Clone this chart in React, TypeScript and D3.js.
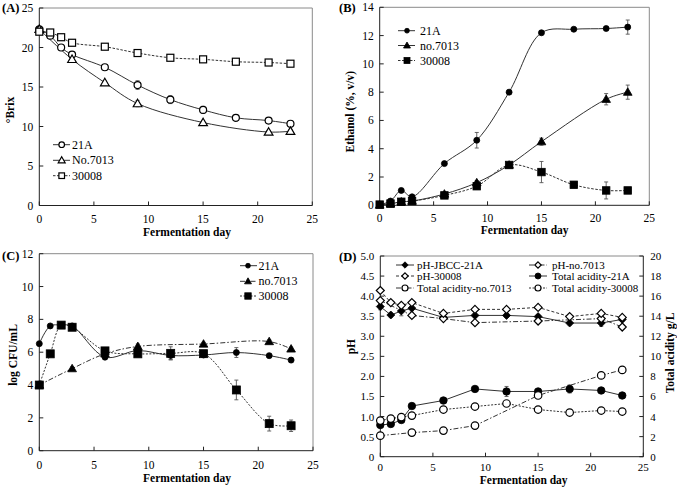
import React from 'react';
import * as d3 from 'd3';

const FONT = "'Liberation Serif', 'Times New Roman', serif";

// ---------- Data ----------
const daysAll = [0, 1, 2, 3, 6, 9, 12, 15, 18, 21, 23];
const daysSparse = [0, 3, 6, 9, 15, 21, 23];

// (A) °Brix
const brix21A = [22.3, 21.5, 20.0, 19.1, 17.5, 15.25, 13.4, 12.1, 11.1, 10.75, 10.35];
const brix21AErr = [0.2, 0.2, 0.2, 0.3, 0.35, 0.55, 0.5, 0.45, 0.4, 0.35, 0.4];
const brix7013 = [22.3, 18.5, 15.55, 12.9, 10.5, 9.3, 9.4];
const brix7013Err = [0.2, 0.3, 0.2, 0.4, 0.2, 0.2, 0.2];
const brix30008 = [22.0, 21.9, 21.3, 20.6, 20.1, 19.3, 18.7, 18.5, 18.2, 18.1, 17.95];
const brix30008Err = [0.15, 0.15, 0.15, 0.15, 0.2, 0.2, 0.15, 0.15, 0.2, 0.15, 0.3];

// (B) Ethanol
const eth21A = [0.05, 0.3, 1.05, 0.6, 2.95, 4.6, 8.0, 12.2, 12.45, 12.5, 12.6];
const eth21AErr = [0, 0.1, 0.1, 0.1, 0.1, 0.55, 0.15, 0.15, 0.1, 0.1, 0.5];
const days7013B = [0, 1, 2, 3, 6, 9, 12, 15, 21, 23];
const eth7013 = [0.02, 0.1, 0.25, 0.3, 0.8, 1.6, 2.85, 4.5, 7.5, 8.0];
const eth7013Err = [0, 0, 0, 0, 0.1, 0.15, 0.1, 0.25, 0.4, 0.5];
const eth30008 = [0.05, 0.12, 0.25, 0.3, 0.7, 1.35, 2.85, 2.35, 1.45, 1.05, 1.05];
const eth30008Err = [0, 0, 0, 0, 0.1, 0.1, 0.1, 0.75, 0.1, 0.6, 0.05];

// (C) log CFU/mL
const cfu21A = [6.52, 7.6, 7.65, 7.6, 5.7, 6.1, 5.8, 5.83, 5.98, 5.79, 5.52];
const cfu21AErr = [0, 0, 0, 0.1, 0.15, 0.15, 0.25, 0.1, 0.3, 0.1, 0.15];
const cfu7013 = [4.0, 5.0, 5.9, 6.35, 6.5, 6.65, 6.2];
const cfu7013Err = [0, 0.1, 0.1, 0.15, 0.1, 0.1, 0.1];
const cfu30008 = [4.0, 5.9, 7.65, 7.52, 6.08, 5.9, 5.93, 5.91, 3.7, 1.65, 1.52];
const cfu30008Err = [0, 0.1, 0.1, 0.1, 0.15, 0.1, 0.4, 0.15, 0.6, 0.45, 0.35];

// (D) pH and total acidity
const ph21A = [3.74, 3.53, 3.63, 3.7, 3.47, 3.52, 3.52, 3.49, 3.33, 3.33, 3.42];
const ph21AErr = [0.08, 0.05, 0.12, 0.1, 0.05, 0.05, 0.05, 0.05, 0.05, 0.08, 0.05];
const ph7013 = [3.89, 3.52, 3.44, 3.34, 3.38, 3.44, 3.23];
const ph30008 = [4.14, 3.84, 3.77, 3.84, 3.57, 3.67, 3.67, 3.72, 3.49, 3.57, 3.47];
const ta21A = [3.16, 3.26, 3.66, 5.05, 5.6, 6.75, 6.5, 6.5, 6.75, 6.6, 6.1];
const ta21AErr = [0.1, 0.1, 0.1, 0.1, 0.15, 0.2, 0.5, 0.2, 0.4, 0.2, 0.2];
const ta7013 = [2.1, 2.4, 2.6, 3.1, 6.1, 8.1, 8.65];
const ta30008 = [3.6, 3.8, 3.95, 4.1, 4.7, 5.0, 5.3, 4.7, 4.4, 4.6, 4.5];

const xTicks = [0, 5, 10, 15, 20, 25];

// ---------- Types ----------
type MarkerType = 'circle' | 'triangle' | 'square' | 'diamond';
interface Series {
  name: string;
  days: number[];
  values: number[];
  errs?: number[];
  marker: MarkerType;
  filled: boolean;
  size: number;
  dash?: string;
  curve: 'smooth' | 'linear';
  axis?: 'left' | 'right';
}
interface LegendItem {
  series: Series;
  x1: number;
  x2: number;
  mx: number;
  tx: number;
  y: number;
}
interface PanelCfg {
  x0: number;
  x1: number;
  top: number;
  bottom: number;
  yDomain: [number, number];
  yTicks: number[];
  yFmt: (v: number) => string;
  rDomain?: [number, number];
  rTicks?: number[];
  label: string;
  labelX: number;
  labelY: number;
  yTitle: string;
  yTitleX: number;
  yTitleY: number;
  rTitle?: string;
  rTitleX?: number;
  rTitleY?: number;
  xTitleX: number;
  xTitleY: number;
  tickLabelY: number;
  tickFont: number;
  series: Series[];
  legend: LegendItem[];
  legendFont: number;
}

function Marker({ type, cx, cy, filled, size }: { type: MarkerType; cx: number; cy: number; filled: boolean; size: number }) {
  const fill = filled ? '#000' : '#fff';
  const common = { fill, stroke: '#000', strokeWidth: filled ? 0.8 : 1.2 };
  const s = size;
  if (type === 'circle') return <circle cx={cx} cy={cy} r={s / 2} {...common} />;
  if (type === 'square') return <rect x={cx - s / 2} y={cy - s / 2} width={s} height={s} {...common} />;
  if (type === 'triangle')
    return (
      <path
        d={`M${cx},${cy - s * 0.58} L${cx + s * 0.58},${cy + s * 0.42} L${cx - s * 0.58},${cy + s * 0.42} Z`}
        {...common}
      />
    );
  return <path d={`M${cx},${cy - s / 2} L${cx + s / 2},${cy} L${cx},${cy + s / 2} L${cx - s / 2},${cy} Z`} {...common} />;
}

function Panel({ cfg }: { cfg: PanelCfg }) {
  const x = d3.scaleLinear().domain([0, 25]).range([cfg.x0, cfg.x1]);
  const yL = d3.scaleLinear().domain(cfg.yDomain).range([cfg.bottom, cfg.top]);
  const yR = cfg.rDomain ? d3.scaleLinear().domain(cfg.rDomain).range([cfg.bottom, cfg.top]) : yL;
  const tickLen = 4;
  return (
    <g>
      {/* frame */}
      <line x1={cfg.x0} x2={cfg.x1} y1={cfg.top} y2={cfg.top} stroke="#8a8a8a" strokeWidth={1} />
      <line x1={cfg.x1} x2={cfg.x1} y1={cfg.top} y2={cfg.bottom} stroke={cfg.rDomain ? '#222' : '#8a8a8a'} strokeWidth={1} />
      <line x1={cfg.x0} x2={cfg.x0} y1={cfg.top} y2={cfg.bottom} stroke="#222" strokeWidth={1} />
      <line x1={cfg.x0} x2={cfg.x1} y1={cfg.bottom} y2={cfg.bottom} stroke="#222" strokeWidth={1} />
      {/* x ticks */}
      {xTicks.map((t) => (
        <g key={'xt' + t}>
          <line x1={x(t)} x2={x(t)} y1={cfg.bottom} y2={cfg.bottom - tickLen} stroke="#222" />
          <text x={x(t)} y={cfg.tickLabelY} textAnchor="middle" dominantBaseline="central" fontSize={cfg.tickFont} fontFamily={FONT}>
            {t}
          </text>
        </g>
      ))}
      {/* y ticks */}
      {cfg.yTicks.map((t) => (
        <g key={'yt' + t}>
          <line x1={cfg.x0} x2={cfg.x0 + tickLen} y1={yL(t)} y2={yL(t)} stroke="#222" />
          <text x={cfg.x0 - 6} y={yL(t)} textAnchor="end" dominantBaseline="central" fontSize={cfg.tickFont} fontFamily={FONT}>
            {cfg.yFmt(t)}
          </text>
        </g>
      ))}
      {cfg.rTicks &&
        cfg.rTicks.map((t) => (
          <g key={'rt' + t}>
            <line x1={cfg.x1} x2={cfg.x1 - tickLen} y1={yR(t)} y2={yR(t)} stroke="#222" />
            <text x={cfg.x1 + 7} y={yR(t)} textAnchor="start" dominantBaseline="central" fontSize={cfg.tickFont} fontFamily={FONT}>
              {t}
            </text>
          </g>
        ))}
      {/* titles */}
      <text x={cfg.labelX} y={cfg.labelY} fontSize={12.5} fontWeight="bold" fontFamily={FONT}>
        {cfg.label}
      </text>
      <text x={cfg.xTitleX} y={cfg.xTitleY} textAnchor="middle" dominantBaseline="central" fontSize={11.5} fontWeight="bold" fontFamily={FONT}>
        Fermentation day
      </text>
      <text
        transform={`translate(${cfg.yTitleX},${cfg.yTitleY}) rotate(-90)`}
        textAnchor="middle"
        dominantBaseline="central"
        fontSize={11.5}
        fontWeight="bold"
        fontFamily={FONT}
      >
        {cfg.yTitle}
      </text>
      {cfg.rTitle && (
        <text
          transform={`translate(${cfg.rTitleX},${cfg.rTitleY}) rotate(-90)`}
          textAnchor="middle"
          dominantBaseline="central"
          fontSize={11.5}
          fontWeight="bold"
          fontFamily={FONT}
        >
          {cfg.rTitle}
        </text>
      )}
      {/* lines */}
      {cfg.series.map((s) => {
        const ys = s.axis === 'right' ? yR : yL;
        const gen = d3
          .line<number>()
          .x((_, i) => x(s.days[i]))
          .y((v) => ys(v))
          .curve(s.curve === 'smooth' ? d3.curveCatmullRom.alpha(0.5) : d3.curveLinear);
        return (
          <path key={'l' + s.name} d={gen(s.values) || ''} fill="none" stroke="#333" strokeWidth={1} strokeDasharray={s.dash} />
        );
      })}
      {/* error bars */}
      {cfg.series.map((s) => {
        const ys = s.axis === 'right' ? yR : yL;
        return (
          <g key={'e' + s.name}>
            {s.errs &&
              s.values.map((v, i) => {
                const e = s.errs![i];
                if (!e) return null;
                const cx = x(s.days[i]);
                return (
                  <g key={i} stroke="#555" strokeWidth={0.9}>
                    <line x1={cx} x2={cx} y1={ys(v - e)} y2={ys(v + e)} />
                    <line x1={cx - 2} x2={cx + 2} y1={ys(v - e)} y2={ys(v - e)} />
                    <line x1={cx - 2} x2={cx + 2} y1={ys(v + e)} y2={ys(v + e)} />
                  </g>
                );
              })}
          </g>
        );
      })}
      {/* markers */}
      {cfg.series.map((s) => {
        const ys = s.axis === 'right' ? yR : yL;
        return (
          <g key={'m' + s.name}>
            {s.values.map((v, i) => (
              <Marker key={i} type={s.marker} cx={x(s.days[i])} cy={ys(v)} filled={s.filled} size={s.size} />
            ))}
          </g>
        );
      })}
      {/* legend */}
      {cfg.legend.map((l) => (
        <g key={'lg' + l.series.name}>
          <line x1={l.x1} x2={l.x2} y1={l.y} y2={l.y} stroke="#333" strokeWidth={1} strokeDasharray={l.series.dash} />
          <Marker type={l.series.marker} cx={l.mx} cy={l.y} filled={l.series.filled} size={l.series.size * 0.8} />
          <text x={l.tx} y={l.y} dominantBaseline="central" fontSize={cfg.legendFont} fontFamily={FONT}>
            {l.series.name}
          </text>
        </g>
      ))}
    </g>
  );
}

// ---------- Series definitions ----------
const sA1: Series = { name: '21A', days: daysAll, values: brix21A, errs: brix21AErr, marker: 'circle', filled: false, size: 7, curve: 'smooth' };
const sA2: Series = { name: 'No.7013', days: daysSparse, values: brix7013, errs: brix7013Err, marker: 'triangle', filled: false, size: 7.5, curve: 'smooth' };
const sA3: Series = { name: '30008', days: daysAll, values: brix30008, errs: brix30008Err, marker: 'square', filled: false, size: 7, dash: '2.5,1.5', curve: 'smooth' };

const sB1: Series = { name: '21A', days: daysAll, values: eth21A, errs: eth21AErr, marker: 'circle', filled: true, size: 6, curve: 'smooth' };
const sB2: Series = { name: 'no.7013', days: days7013B, values: eth7013, errs: eth7013Err, marker: 'triangle', filled: true, size: 7.5, curve: 'smooth' };
const sB3: Series = { name: '30008', days: daysAll, values: eth30008, errs: eth30008Err, marker: 'square', filled: true, size: 7.5, dash: '2.5,1.5', curve: 'smooth' };

const sC1: Series = { name: '21A', days: daysAll, values: cfu21A, errs: cfu21AErr, marker: 'circle', filled: true, size: 6, curve: 'smooth' };
const sC2: Series = { name: 'no.7013', days: daysSparse, values: cfu7013, errs: cfu7013Err, marker: 'triangle', filled: true, size: 7.5, dash: '5,2,1.5,2', curve: 'smooth' };
const sC3: Series = { name: '30008', days: daysAll, values: cfu30008, errs: cfu30008Err, marker: 'square', filled: true, size: 8, dash: '2,1.5', curve: 'smooth' };

const sD1: Series = { name: 'pH-JBCC-21A', days: daysAll, values: ph21A, errs: ph21AErr, marker: 'diamond', filled: true, size: 8, curve: 'linear' };
const sD2: Series = { name: 'pH-no.7013', days: daysSparse, values: ph7013, marker: 'diamond', filled: false, size: 8, dash: '5,2,1.5,2', curve: 'linear' };
const sD3: Series = { name: 'pH-30008', days: daysAll, values: ph30008, marker: 'diamond', filled: false, size: 8, dash: '3,2', curve: 'linear' };
const sD4: Series = { name: 'Total acidity-21A', days: daysAll, values: ta21A, errs: ta21AErr, marker: 'circle', filled: true, size: 7.5, curve: 'linear', axis: 'right' };
const sD5: Series = { name: 'Total acidity-no.7013', days: daysSparse, values: ta7013, marker: 'circle', filled: false, size: 7.5, dash: '5,2,1.5,2', curve: 'linear', axis: 'right' };
const sD6: Series = { name: 'Total acidity-30008', days: daysAll, values: ta30008, marker: 'circle', filled: false, size: 7.5, dash: '2,1.5', curve: 'linear', axis: 'right' };

const panelA: PanelCfg = {
  x0: 39.3, x1: 312.3, top: 8, bottom: 205.5,
  yDomain: [0, 25], yTicks: [0, 5, 10, 15, 20, 25], yFmt: (v) => String(v),
  label: '(A)', labelX: 2, labelY: 12,
  yTitle: '°Brix', yTitleX: 10, yTitleY: 110,
  xTitleX: 187, xTitleY: 232, tickLabelY: 218.5, tickFont: 11.5,
  series: [sA1, sA2, sA3],
  legend: [
    { series: sA1, x1: 53, x2: 70, mx: 61.7, tx: 72, y: 144.7 },
    { series: sA2, x1: 53, x2: 70, mx: 61.7, tx: 72, y: 160.3 },
    { series: sA3, x1: 53, x2: 70, mx: 61.7, tx: 72, y: 175.7 },
  ],
  legendFont: 12,
};

const panelB: PanelCfg = {
  x0: 379.7, x1: 649.3, top: 7.3, bottom: 205.3,
  yDomain: [0, 14], yTicks: [0, 2, 4, 6, 8, 10, 12, 14], yFmt: (v) => String(v),
  label: '(B)', labelX: 339, labelY: 12,
  yTitle: 'Ethanol (%, v/v)', yTitleX: 350.3, yTitleY: 111.7,
  xTitleX: 524.7, xTitleY: 230, tickLabelY: 218.3, tickFont: 11.5,
  series: [sB1, sB2, sB3],
  legend: [
    { series: sB1, x1: 398, x2: 415, mx: 407, tx: 420, y: 30.7 },
    { series: sB2, x1: 398, x2: 415, mx: 407, tx: 420, y: 45.5 },
    { series: sB3, x1: 398, x2: 415, mx: 407, tx: 420, y: 60.5 },
  ],
  legendFont: 12,
};

const panelC: PanelCfg = {
  x0: 39.3, x1: 313, top: 253.7, bottom: 450.7,
  yDomain: [0, 12], yTicks: [0, 2, 4, 6, 8, 10, 12], yFmt: (v) => String(v),
  label: '(C)', labelX: 2, labelY: 260,
  yTitle: 'log CFU/mL', yTitleX: 13.3, yTitleY: 355,
  xTitleX: 187, xTitleY: 477.7, tickLabelY: 464.5, tickFont: 11.5,
  series: [sC1, sC2, sC3],
  legend: [
    { series: sC1, x1: 240, x2: 257, mx: 248, tx: 258.5, y: 265.7 },
    { series: sC2, x1: 240, x2: 257, mx: 248, tx: 258.5, y: 281.3 },
    { series: sC3, x1: 240, x2: 257, mx: 248, tx: 258.5, y: 296 },
  ],
  legendFont: 12,
};

const panelD: PanelCfg = {
  x0: 380.3, x1: 643.3, top: 256, bottom: 456.7,
  yDomain: [0, 5], yTicks: [0, 0.5, 1, 1.5, 2, 2.5, 3, 3.5, 4, 4.5, 5],
  yFmt: (v) => (v === 0 ? '0' : d3.format('.1f')(v)),
  rDomain: [0, 20], rTicks: [0, 2, 4, 6, 8, 10, 12, 14, 16, 18, 20],
  label: '(D)', labelX: 339, labelY: 260.5,
  yTitle: 'pH', yTitleX: 351, yTitleY: 346.7,
  rTitle: 'Total acidity g/L', rTitleX: 670.3, rTitleY: 353,
  xTitleX: 523.7, xTitleY: 480, tickLabelY: 466.8, tickFont: 11,
  series: [sD1, sD2, sD3, sD4, sD5, sD6],
  legend: [
    { series: sD1, x1: 396, x2: 414, mx: 405, tx: 417, y: 265 },
    { series: sD2, x1: 529, x2: 547, mx: 538, tx: 552, y: 265 },
    { series: sD3, x1: 396, x2: 414, mx: 405, tx: 417, y: 276 },
    { series: sD4, x1: 529, x2: 547, mx: 538, tx: 552, y: 276 },
    { series: sD5, x1: 396, x2: 414, mx: 405, tx: 417, y: 288 },
    { series: sD6, x1: 529, x2: 547, mx: 538, tx: 552, y: 288 },
  ],
  legendFont: 11,
};

export default function App() {
  return (
    <svg
      width={677}
      height={488}
      viewBox="0 0 677 488"
      style={{ position: 'absolute', left: 0, top: 0, background: '#fff' }}
    >
      <rect x={0} y={0} width={677} height={488} fill="#fff" />
      <Panel cfg={panelA} />
      <Panel cfg={panelB} />
      <Panel cfg={panelC} />
      <Panel cfg={panelD} />
    </svg>
  );
}
